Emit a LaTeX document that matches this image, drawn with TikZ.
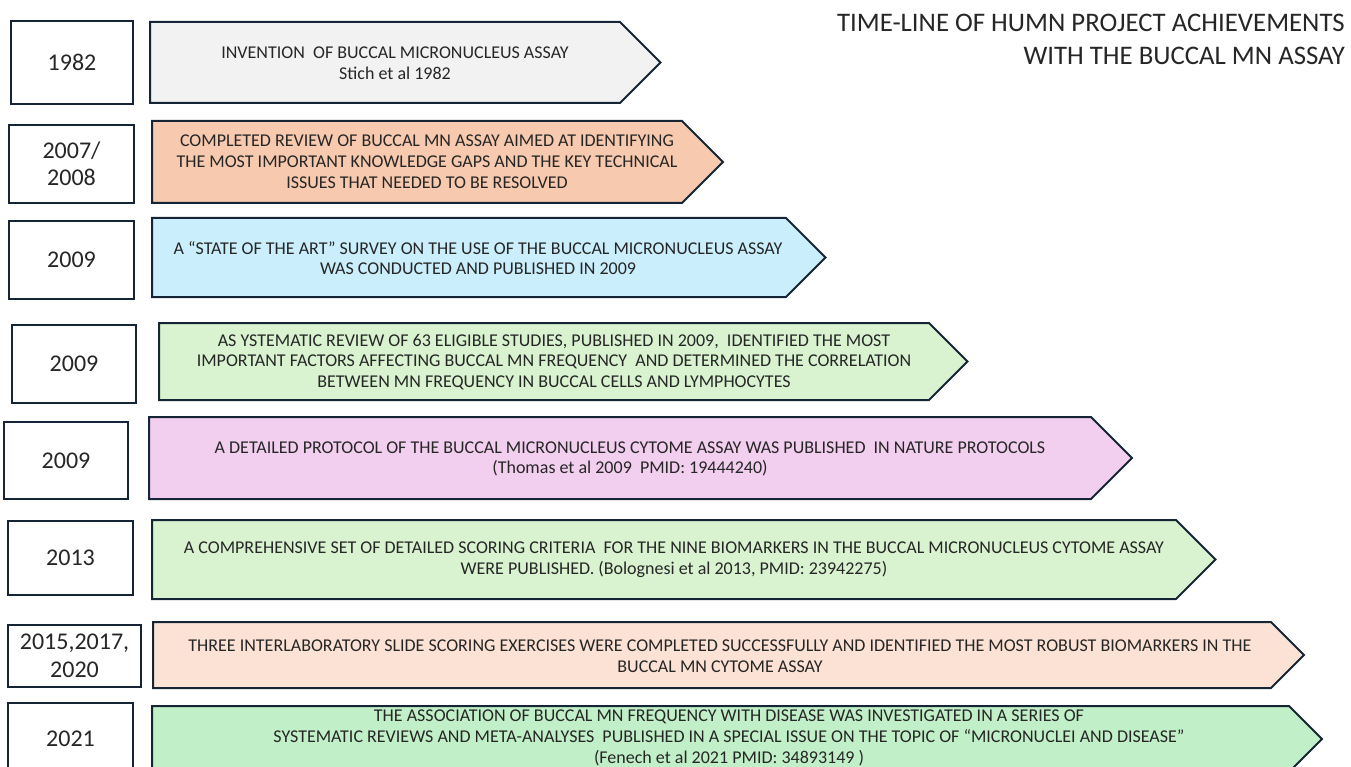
\documentclass[tikz,border=0pt]{standalone}
\usepackage{fontspec}
\setmainfont{Carlito}
\definecolor{edge}{HTML}{152535}
\definecolor{ink}{HTML}{262626}
\definecolor{cgray}{HTML}{F2F2F2}
\definecolor{corange}{HTML}{F7C9AE}
\definecolor{cblue}{HTML}{CAEEFB}
\definecolor{cgreen}{HTML}{D9F2D0}
\definecolor{cpink}{HTML}{F2CEEF}
\definecolor{cpeach}{HTML}{FBE2D5}
\definecolor{cmint}{HTML}{C1F0C8}
\newcommand\tlarrow[5]{% left, top, bottom, body right, fill
  \pgfmathsetmacro\tlmid{(#2+#3)/2}%
  \pgfmathsetmacro\tltip{#4+(#3-#2)/2}%
  \draw[arrowshape, fill=#5] (#1,#2) -- (#4,#2) -- (\tltip,\tlmid) -- (#4,#3) -- (#1,#3) -- cycle;
}
\begin{document}
\begin{tikzpicture}[x=1pt,y=-1pt,
  arrowshape/.style={draw=edge, line width=2pt, line join=miter},
  yearbox/.style={draw=edge, line width=2pt, fill=white, inner sep=0pt, align=center,
    text=ink, font=\fontsize{24}{27.5}\selectfont},
  stext/.style={inner sep=0pt, align=center, text=ink, font=\fontsize{18}{20.8}\selectfont},
  ttext/.style={inner sep=0pt, text=ink, font=\fontsize{26.8}{26.8}\selectfont, anchor=base east}]
\useasboundingbox (0,0) rectangle (1351,767);
\clip (0,0) rectangle (1351,767);
% title
\node[ttext] (title1) at (1345,32) {TIME-LINE OF HUMN PROJECT ACHIEVEMENTS};
\node[ttext] (title2) at (1345,65) {WITH THE BUCCAL MN ASSAY};
% row 1
\node[yearbox, minimum width=122pt, minimum height=83pt] (y1) at (72,62.5) {1982};
\tlarrow{150}{22}{103}{620}{cgray}
\node[stext] (t1) at (395,63) {INVENTION\ \ OF BUCCAL MICRONUCLEUS ASSAY\\Stich et al 1982};
% row 2
\node[yearbox, minimum width=125pt, minimum height=78pt] (y2) at (71.5,164) {2007/\\2008};
\tlarrow{152}{121}{203}{682}{corange}
\node[stext] (t2) at (427,162) {COMPLETED REVIEW OF BUCCAL MN ASSAY AIMED AT IDENTIFYING\\THE MOST IMPORTANT KNOWLEDGE GAPS AND THE KEY TECHNICAL\\ISSUES THAT NEEDED TO BE RESOLVED};
% row 3
\node[yearbox, minimum width=125pt, minimum height=78pt] (y3) at (71.5,260) {2009};
\tlarrow{152}{218}{297}{786}{cblue}
\node[stext] (t3) at (478,258) {A “STATE OF THE ART” SURVEY ON THE USE OF THE BUCCAL MICRONUCLEUS ASSAY\\WAS CONDUCTED AND PUBLISHED IN 2009};
% row 4
\node[yearbox, minimum width=124pt, minimum height=78pt] (y4) at (74,364) {2009};
\tlarrow{159}{323}{400}{929}{cgreen}
\node[stext] (t4) at (554,362) {AS YSTEMATIC REVIEW OF 63 ELIGIBLE STUDIES, PUBLISHED IN 2009,\ \ IDENTIFIED THE MOST\\IMPORTANT FACTORS AFFECTING BUCCAL MN FREQUENCY\ \ AND DETERMINED THE CORRELATION\\BETWEEN MN FREQUENCY IN BUCCAL CELLS AND LYMPHOCYTES};
% row 5
\node[yearbox, minimum width=124pt, minimum height=77pt] (y5) at (66,460.5) {2009};
\tlarrow{149}{417}{499}{1091}{cpink}
\node[stext] (t5) at (630,459) {A DETAILED PROTOCOL OF THE BUCCAL MICRONUCLEUS CYTOME ASSAY WAS PUBLISHED\ \ IN NATURE PROTOCOLS\\(Thomas et al 2009\ \ PMID: 19444240)};
% row 6
\node[yearbox, minimum width=125pt, minimum height=74pt] (y6) at (70.5,558) {2013};
\tlarrow{152}{520}{599}{1176}{cgreen}
\node[stext] (t6) at (674,560) {A COMPREHENSIVE SET OF DETAILED SCORING CRITERIA\ \ FOR THE NINE BIOMARKERS IN THE BUCCAL MICRONUCLEUS CYTOME ASSAY\\WERE PUBLISHED. (Bolognesi et al 2013, PMID: 23942275)};
% row 7
\node[yearbox, minimum width=133pt, minimum height=62pt] (y7) at (74.5,656) {2015,2017,\\2020};
\tlarrow{153}{622}{688}{1271}{cpeach}
\node[stext] (t7) at (720,656) {THREE INTERLABORATORY SLIDE SCORING EXERCISES WERE COMPLETED SUCCESSFULLY AND IDENTIFIED THE MOST ROBUST BIOMARKERS IN THE\\BUCCAL MN CYTOME ASSAY};
% row 8
\node[yearbox, minimum width=125pt, minimum height=72pt] (y8) at (70.5,739) {2021};
\tlarrow{152}{706}{772}{1289}{cmint}
\node[stext] (t8) at (729,738) {THE ASSOCIATION OF BUCCAL MN FREQUENCY WITH DISEASE WAS INVESTIGATED IN A SERIES OF\\SYSTEMATIC REVIEWS AND META-ANALYSES\ \ PUBLISHED IN A SPECIAL ISSUE ON THE TOPIC OF “MICRONUCLEI AND DISEASE”\\(Fenech et al 2021 PMID: 34893149 )};
\end{tikzpicture}
\end{document}
